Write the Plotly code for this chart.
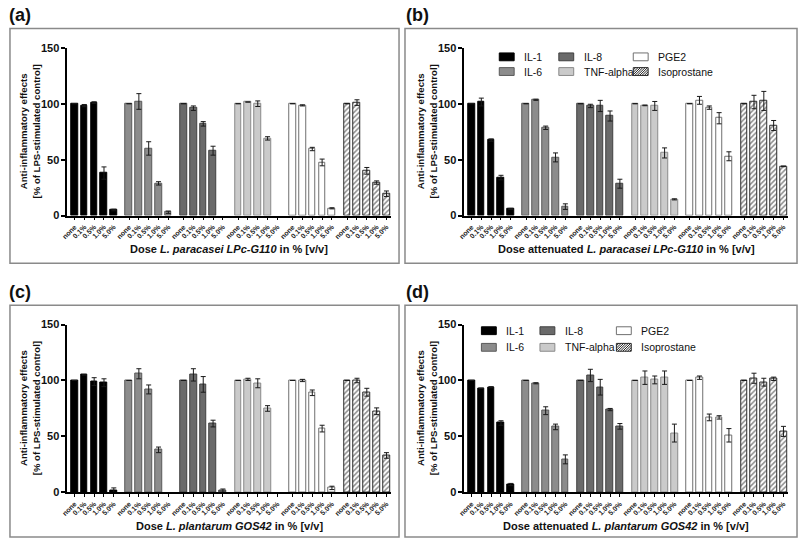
import plotly.graph_objects as go

# ---------------- data ----------------
CYTOKINES = ["IL-1", "IL-6", "IL-8", "TNF-alpha", "PGE2", "Isoprostane"]
DOSES = ["none", "0.1%", "0.5%", "1.0%", "5.0%"]
PANEL_LABELS = ["(a)", "(b)", "(c)", "(d)"]
X_TITLES = [
    "Dose <i>L. paracasei LPc-G110</i> in % [v/v]",
    "Dose attenuated <i>L. paracasei LPc-G110</i> in % [v/v]",
    "Dose <i>L. plantarum GOS42</i> in % [v/v]",
    "Dose attenuated <i>L. plantarum GOS42</i> in % [v/v]",
]
Y_TITLE = "Anti-inflammatory effects<br>[% of LPS-stimulated control]"
Y_TICKS = [0, 50, 100, 150]

# rows: IL-1, IL-6, IL-8, TNF-alpha, PGE2, Isoprostane ; cols: doses
A_MEAN = [
    [100, 98.3, 101, 38, 5],
    [100, 102, 60, 28.8, 3],
    [100, 96, 82, 58, None],
    [100, 101.5, 100, 69, None],
    [100, 98.5, 59.5, 47.5, 6.5],
    [100, 101, 40, 29.5, 19.5],
]
A_ERR = [
    [None, 1, 0.7, 5.5, 0.7],
    [None, 7, 6, 1.5, 1],
    [None, 2, 2, 4, None],
    [None, None, 2.5, 1.5, None],
    [None, 0.5, 1.5, 3, 0.5],
    [None, 2.5, 3, 1.5, 2.5],
]
B_MEAN = [
    [100, 101.5, 67.5, 34, 6],
    [100, 103.5, 78.5, 52, 8],
    [100, 98, 98, 89, 28.5],
    [100, 98.5, 98, 56, 14.5],
    [100, 103, 96.5, 87, 53],
    [100, 101.5, 102.5, 80.5, 44],
]
B_ERR = [
    [None, 3.5, 1, 2, 0.5],
    [None, 0.5, 1.5, 4, 2.5],
    [None, 1.5, 5, 4.5, 4],
    [None, 0.3, 4, 4.5, 0.5],
    [None, 3.5, 1.5, 5, 4],
    [None, 6, 8.5, 4.5, 0.3],
]
C_MEAN = [
    [100, 105, 99, 98, 2],
    [100, 106, 92, 38, None],
    [100, 105, 96.5, 61.5, 1.5],
    [100, 101, 97.5, 75, None],
    [100, 100, 89, 57, 4],
    [100, 100, 89.5, 72.5, 33],
]
C_ERR = [
    [None, None, 3.5, 3.5, 2],
    [None, 4.5, 4, 2.5, None],
    [None, 5.5, 7, 3, 1.5],
    [None, 1, 4, 2.5, None],
    [None, 1, 2.5, 3, 1.5],
    [None, 2, 3.5, 3, 2.5],
]
D_MEAN = [
    [100, 93, 94, 62, 7],
    [100, 97.5, 73, 58.5, 29.5],
    [100, 104.5, 94, 74, 59],
    [100, 102.5, 100.5, 102.5, 53],
    [100, 102.5, 67, 67, 51],
    [100, 102, 98.5, 101.5, 54.5],
]
D_ERR = [
    [None, None, 0.5, 2, 1],
    [None, 0.5, 3.5, 2.5, 4],
    [None, 5.5, 7, 1, 2.5],
    [None, 6, 3.5, 6, 8],
    [None, 1.5, 3, 1.5, 6],
    [None, 4.5, 3.5, 1.5, 4.5],
]
MEANS = [A_MEAN, B_MEAN, C_MEAN, D_MEAN]
ERRS = [A_ERR, B_ERR, C_ERR, D_ERR]

# ---------------- styles / layout ----------------
W, H = 800, 546
FONT = "Liberation Sans, Arial, sans-serif"
FILLS = ["#000000", "#8c8c8c", "#6a6a6a", "#cacaca", "#ffffff", "#ffffff"]
EDGES = ["#000000", "#5a5a5a", "#404040", "#8a8a8a", "#707070", "#2a2a2a"]
GROUP_STEP = 5.55
BAR_W = 0.68
X_RANGE = [-0.74, 32.2]

# panel geometry in pixels: (x offset, y offset)
OFFS = [(0, 0), (400, 0), (0, 283), (400, 283)]
AX_X0, AX_X1 = 61.7, 387.8
AX_YTOP, AX_YBOT = 42.7, 214.3
BOXES = [(4, 23, 396, 263), (402, 23, 797, 263), (4, 306, 396, 543), (402, 306, 797, 543)]
LEGENDS = {
    1: dict(sw=[497, 557, 632], rows=[52, 67]),
    3: dict(sw=[479, 538, 615], rows=[332, 349]),
}


def fx(x):
    return x / W


def fy(y):
    return 1 - y / H


fig = go.Figure()
layout = dict(
    width=W, height=H, autosize=False,
    margin=dict(l=0, r=0, t=0, b=0),
    paper_bgcolor="white", plot_bgcolor="white",
    showlegend=False, font=dict(family=FONT, color="#111"),
    bargap=0,
)
annotations = []
shapes = []

tick_pos = [g * GROUP_STEP + i for g in range(len(CYTOKINES)) for i in range(len(DOSES))]
tick_txt = [d for _ in CYTOKINES for d in DOSES]

for p in range(4):
    ox, oy = OFFS[p]
    sfx = "" if p == 0 else str(p + 1)
    xa, ya = "x" + sfx, "y" + sfx
    for g, name in enumerate(CYTOKINES):
        xs = [g * GROUP_STEP + i for i in range(len(DOSES))]
        marker = dict(color=FILLS[g], line=dict(color=EDGES[g], width=1))
        if name == "Isoprostane":
            marker["pattern"] = dict(shape="/", fgcolor="#1e1e1e", bgcolor="#ffffff",
                                     size=3.6, solidity=0.45)
        fig.add_trace(go.Bar(
            x=xs, y=MEANS[p][g], width=BAR_W, name=name, marker=marker,
            xaxis=xa, yaxis=ya,
            error_y=dict(type="data", array=ERRS[p][g], visible=True,
                         color="#1a1a1a", thickness=1, width=2.5),
        ))
    layout["xaxis" + sfx] = dict(
        domain=[fx(ox + AX_X0), fx(ox + AX_X1)], anchor=ya, range=X_RANGE,
        showline=True, linecolor="#000", linewidth=1.5, showgrid=False, zeroline=False,
        ticks="outside", ticklen=3, tickwidth=1, tickcolor="#000",
        tickvals=tick_pos, ticktext=tick_txt, tickangle=-45,
        tickfont=dict(size=7, family=FONT, weight="bold", color="#222"),
    )
    layout["yaxis" + sfx] = dict(
        domain=[fy(oy + AX_YBOT), fy(oy + AX_YTOP)], anchor=xa, range=[0, 150],
        showline=True, linecolor="#000", linewidth=1.5, showgrid=False, zeroline=False,
        ticks="outside", ticklen=4, tickwidth=1.5, tickcolor="#000",
        tickvals=Y_TICKS, ticktext=[str(v) for v in Y_TICKS],
        tickfont=dict(size=11, family=FONT, weight="bold", color="#111"),
    )
    # box
    bx0, by0, bx1, by1 = BOXES[p]
    shapes.append(dict(type="rect", xref="paper", yref="paper",
                       x0=fx(bx0), x1=fx(bx1), y0=fy(by1), y1=fy(by0),
                       line=dict(color="#8a8a8a", width=1.5), layer="below"))
    # panel label
    annotations.append(dict(text=PANEL_LABELS[p], xref="paper", yref="paper",
                            x=fx(ox + 1), y=fy(oy + 9), xanchor="left", yanchor="middle",
                            showarrow=False, font=dict(size=18, family=FONT, weight="bold", color="#111")))
    # y title
    annotations.append(dict(text=Y_TITLE, xref="paper", yref="paper", textangle=-90,
                            x=fx(ox + 24), y=fy(oy + (AX_YTOP + AX_YBOT) / 2),
                            xanchor="center", yanchor="middle", showarrow=False,
                            font=dict(size=9.6, family=FONT, weight="bold", color="#111")))
    # x title
    annotations.append(dict(text=X_TITLES[p], xref="paper", yref="paper",
                            x=fx(ox + (AX_X0 + AX_X1) / 2), y=fy(oy + 248.5),
                            xanchor="center", yanchor="middle", showarrow=False,
                            font=dict(size=11, family=FONT, weight="bold", color="#111")))
    # legend
    if p in LEGENDS:
        lg = LEGENDS[p]
        for k, name in enumerate(CYTOKINES):
            col, row = k // 2, k % 2
            sx0 = lg["sw"][col]
            sx1 = sx0 + 15
            cy = lg["rows"][row]
            sy0, sy1 = cy - 4, cy + 4
            shapes.append(dict(type="rect", xref="paper", yref="paper",
                               x0=fx(sx0), x1=fx(sx1), y0=fy(sy1), y1=fy(sy0),
                               fillcolor=FILLS[k], line=dict(color=EDGES[k], width=1)))
            if name == "Isoprostane":
                segs = []
                c = sx0 + sy0
                while c < sx1 + sy1:
                    xa_ = max(sx0, c - sy1)
                    xb_ = min(sx1, c - sy0)
                    if xb_ > xa_:
                        segs.append("M%.5f,%.5f L%.5f,%.5f" % (
                            fx(xa_), fy(c - xa_), fx(xb_), fy(c - xb_)))
                    c += 2.4
                shapes.append(dict(type="path", xref="paper", yref="paper",
                                   path=" ".join(segs), line=dict(color="#222", width=1)))
            annotations.append(dict(text=name, xref="paper", yref="paper",
                                    x=fx(sx1 + 8), y=fy(cy), xanchor="left", yanchor="middle",
                                    showarrow=False,
                                    font=dict(size=10.5, family=FONT, color="#111")))

layout["annotations"] = annotations
layout["shapes"] = shapes
fig.update_layout(**layout)
fig.write_html(
    "out.html",
    config={"displayModeBar": False},
    post_script="document.body.style.margin='0';document.body.style.overflow='hidden';",
)
